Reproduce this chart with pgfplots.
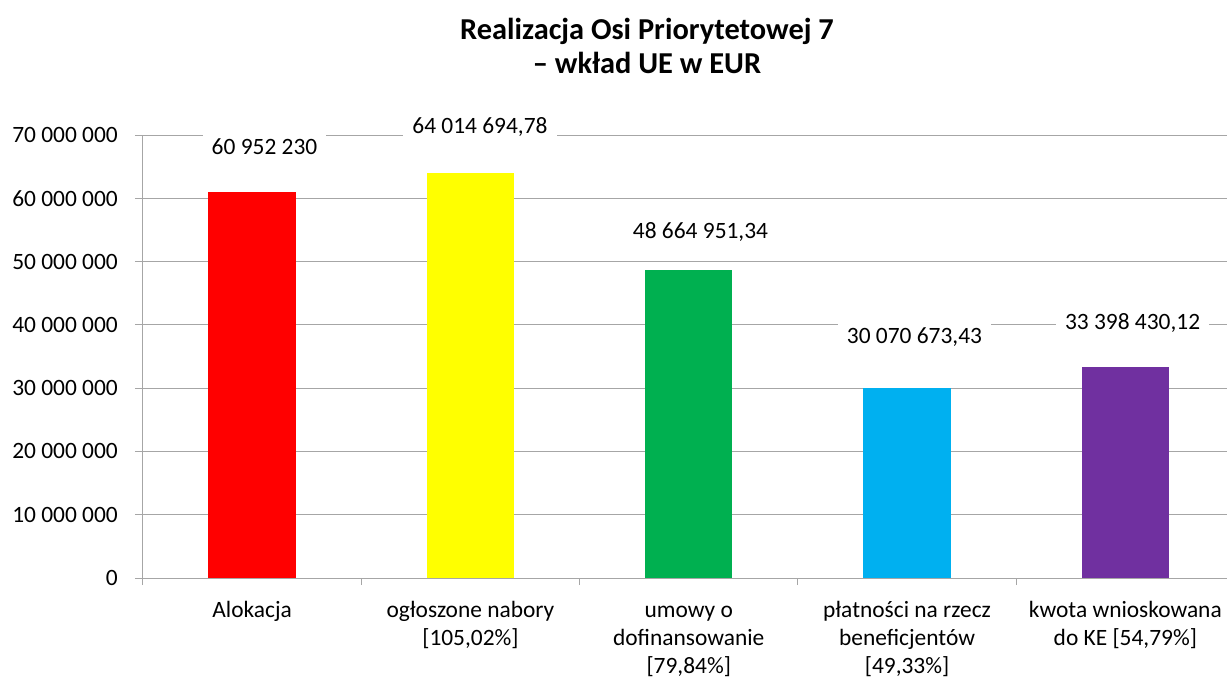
\documentclass[border=0pt]{standalone}
\usepackage{pgfplots}
\pgfplotsset{compat=1.18}
\usepackage{fontspec}
\setmainfont{Carlito}
\definecolor{barred}{HTML}{FF0000}
\definecolor{baryellow}{HTML}{FFFF00}
\definecolor{bargreen}{HTML}{00B050}
\definecolor{barblue}{HTML}{00B0F0}
\definecolor{barpurple}{HTML}{7030A0}
\definecolor{axgray}{HTML}{A6A6A6}
\begin{document}
\begin{tikzpicture}[
  lbl/.style={anchor=base, fill=white, inner xsep=9bp, inner ysep=4bp, font=\fontsize{23.5}{28.5}\selectfont}]
\begin{axis}[
  scale only axis, width=1084bp, height=443bp,
  xmin=-0.5, xmax=4.4656, ymin=0, ymax=70000000,
  axis x line*=bottom, axis y line*=left,
  axis line style={-, axgray, line width=1bp},
  clip=false,
  scaled y ticks=false,
  ytick={0,10000000,20000000,30000000,40000000,50000000,60000000,70000000},
  yticklabels={0,10 000 000,20 000 000,30 000 000,40 000 000,50 000 000,60 000 000,70 000 000},
  xtick={0,1,2,3,4},
  xticklabels={
    {\strut Alokacja},
    {\strut ogłoszone nabory\\{}[105,02\%]},
    {\strut umowy o\\dofinansowanie\\{}[79,84\%]},
    {\strut płatności na rzecz\\beneficjentów\\{}[49,33\%]},
    {\strut kwota wnioskowana\\do KE [54,79\%]}},
  minor xtick={-0.5,0.5,1.5,2.5,3.5},
  major x tick style={draw=none},
  tick align=outside,
  major tick length=8bp, minor tick length=7bp,
  tick style={axgray, line width=1bp},
  ymajorgrids,
  grid style={axgray, line width=1bp},
  every tick label/.append style={font=\fontsize{23.5}{28.5}\selectfont},
  yticklabel style={anchor=east, inner sep=0pt, xshift=-17bp},
  xticklabel style={anchor=north, align=center, inner sep=0pt, yshift=-11bp},
]
\addplot[ybar, bar width=0.4, bar shift=0pt, fill=barred, draw=none] coordinates {(0,60952230)};
\addplot[ybar, bar width=0.4, bar shift=0pt, fill=baryellow, draw=none] coordinates {(1,64014694.78)};
\addplot[ybar, bar width=0.4, bar shift=0pt, fill=bargreen, draw=none] coordinates {(2,48664951.34)};
\addplot[ybar, bar width=0.4, bar shift=0pt, fill=barblue, draw=none] coordinates {(3,30070673.43)};
\addplot[ybar, bar width=0.4, bar shift=0pt, fill=barpurple, draw=none] coordinates {(4,33398430.12)};
\node[lbl] at (axis cs:0.0566,66840000) {60 952 230};
\node[lbl] at (axis cs:1.0437,70160000) {64 014 694,78};
\node[lbl] at (axis cs:2.0538,53720000) {48 664 951,34};
\node[lbl] at (axis cs:3.034,37130000) {30 070 673,43};
\node[lbl] at (axis cs:4.033,39190000) {33 398 430,12};
\end{axis}
\node[anchor=base, font=\bfseries\fontsize{30.5}{36}\selectfont] at (504bp,538.7bp) {Realizacja Osi Priorytetowej 7};
\node[anchor=base, font=\bfseries\fontsize{30.5}{36}\selectfont] at (504bp,504.7bp) {– wkład UE w EUR};
\pgfresetboundingbox
\path[use as bounding box] (-143bp,-99bp) rectangle (1084bp,578bp);
\end{tikzpicture}
\end{document}
